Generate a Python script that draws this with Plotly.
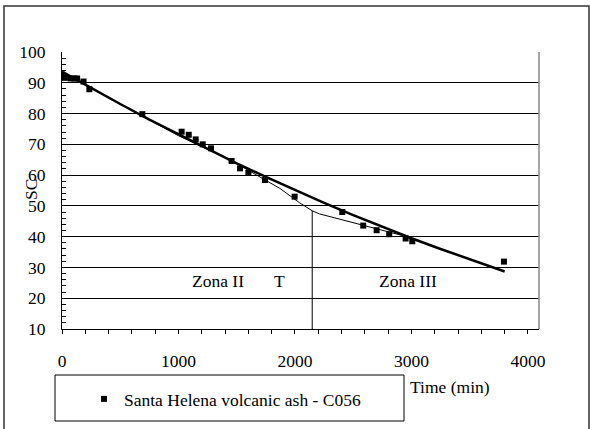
import plotly.graph_objects as go

# Measured data
time_pts = [0, 25, 75, 105, 130, 185, 235, 690, 1027, 1088, 1148, 1208, 1279, 1456,
            1528, 1600, 1742, 1997, 2406, 2586, 2701, 2809, 2950, 3007, 3794]
sc_pts = [92.6, 91.6, 91.4, 91.4, 91.4, 90.4, 87.9, 79.8, 74.1, 73.1, 71.6, 70.0, 68.7,
          64.6, 62.2, 60.7, 58.4, 53.0, 48.0, 43.6, 42.1, 40.8, 39.4, 38.5, 31.9]

# Thick fitted curve
fit_t = [0, 250, 500, 750, 1000, 1250, 1500, 1750, 2000, 2250, 2500, 2750, 3000, 3250, 3500, 3800]
fit_sc = [93.6, 88.3, 83.1, 78.0, 73.2, 68.4, 63.8, 59.4, 55.1, 51.0, 47.0, 43.2, 39.5, 36.0, 32.6, 28.7]

# Thin piecewise line
thin_t = [0, 1000, 1450, 1730, 1870, 2040, 2148, 2210, 2930]
thin_sc = [93.4, 72.8, 64.8, 58.7, 55.7, 51.0, 48.4, 47.4, 40.3]

# Transition marker
t_break = 2148
sc_break = 48.4

x_ticks = [0, 1000, 2000, 3000, 4000]
y_ticks = [10, 20, 30, 40, 50, 60, 70, 80, 90, 100]

FONT = "Liberation Serif, Times New Roman, serif"
FS = 17.5
TXT = dict(family=FONT, size=FS, color="black")

fig = go.Figure()
fig.add_trace(go.Scatter(x=thin_t, y=thin_sc, mode="lines",
                         line=dict(color="black", width=1), showlegend=False, hoverinfo="skip"))
fig.add_trace(go.Scatter(x=[t_break, t_break], y=[sc_break, 10], mode="lines",
                         line=dict(color="black", width=1), showlegend=False, hoverinfo="skip"))
fig.add_trace(go.Scatter(x=fit_t, y=fit_sc, mode="lines",
                         line=dict(color="black", width=2.5), showlegend=False, hoverinfo="skip"))
fig.add_trace(go.Scatter(x=time_pts, y=sc_pts, mode="markers",
                         marker=dict(symbol="square", size=6, color="black"),
                         name="Santa Helena volcanic ash - C056"))

W, H = 590, 429
L, R, T, B = 62, 51, 52, 100
pw, ph = W - L - R, H - T - B

def px(xp):
    return (xp - L) / pw

def py(yp):
    return (H - B - yp) / ph

shapes = [
    dict(type="rect", xref="paper", yref="paper", x0=px(4), x1=px(589), y0=py(440), y1=py(6),
         line=dict(color="#333", width=1.5), fillcolor="rgba(0,0,0,0)", layer="below"),
    dict(type="line", xref="paper", yref="paper", x0=1, x1=1, y0=0, y1=1,
         line=dict(color="#888", width=1.5)),
    dict(type="rect", xref="paper", yref="paper", x0=px(55), x1=px(404), y0=py(421), y1=py(375),
         line=dict(color="black", width=1), fillcolor="white", layer="below"),
]

annotations = [
    dict(x=1340, y=25.5, xref="x", yref="y", text="Zona II", showarrow=False, font=TXT),
    dict(x=1871, y=25.5, xref="x", yref="y", text="T", showarrow=False, font=TXT),
    dict(x=2967, y=25.5, xref="x", yref="y", text="Zona III", showarrow=False, font=TXT),
    dict(x=px(492), y=py(399), xref="paper", yref="paper", text="Time (min)", showarrow=False, font=TXT),
    dict(x=px(19), y=py(190), xref="paper", yref="paper", text="SC", showarrow=False,
         textangle=-90, font=TXT),
]

fig.update_layout(
    width=W, height=H,
    margin=dict(l=L, r=R, t=T, b=B),
    paper_bgcolor="white", plot_bgcolor="white",
    font=TXT,
    shapes=shapes, annotations=annotations,
    legend=dict(x=px(84), y=py(399), xanchor="left", yanchor="middle",
                bgcolor="rgba(0,0,0,0)", borderwidth=0, font=TXT),
    xaxis=dict(range=[0, 4095], tickvals=x_ticks, ticks="outside", ticklen=4, tickcolor="black",
               tickfont=TXT,
               showline=True, linecolor="black", linewidth=1, showgrid=False, zeroline=False,
               ticklabelstandoff=12,
               minor=dict(dtick=200, ticks="outside", ticklen=4, tickcolor="black", showgrid=False)),
    yaxis=dict(range=[10, 100], tickvals=y_ticks, ticks="inside", ticklen=4, tickcolor="black",
               tickfont=TXT,
               showline=True, linecolor="black", linewidth=1, showgrid=True, gridcolor="black",
               gridwidth=1, zeroline=False, ticklabelstandoff=12,
               minor=dict(dtick=2, ticks="inside", ticklen=4, tickcolor="black", showgrid=False)),
)

fig.write_html("out.html")
